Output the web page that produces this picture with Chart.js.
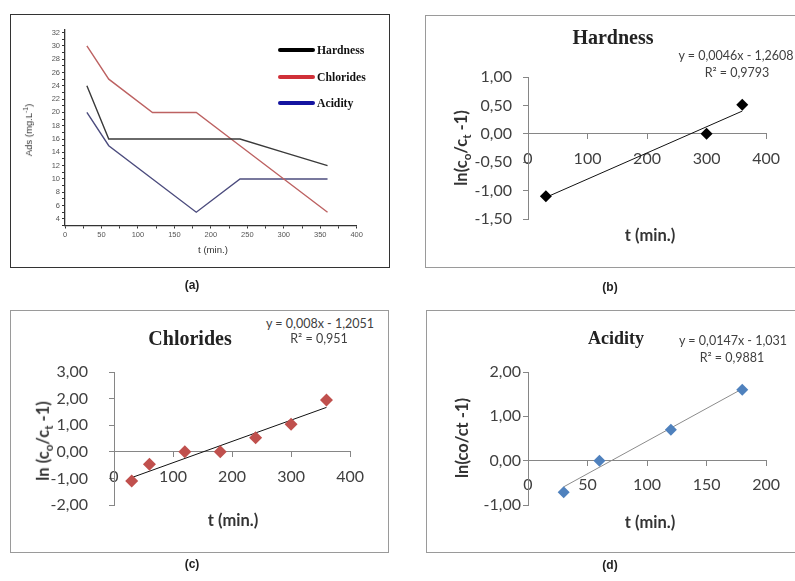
<!DOCTYPE html>
<html>
<head>
<meta charset="utf-8">
<script src="https://cdn.jsdelivr.net/npm/chart.js@4.4.0/dist/chart.umd.min.js"></script>
<style>
  body { margin: 0; width: 795px; height: 581px; overflow: hidden; background: #fff; position: relative; font-family: Lato, sans-serif; }
  .box { position: absolute; box-sizing: border-box; }
  canvas { position: absolute; }
  .txt { position: absolute; white-space: nowrap; transform: translate(-50%, -50%); color: #404040; }
  .vert { transform: translate(-50%, -50%) rotate(-90deg); }
  .serif { font-family: "Liberation Serif", "Times New Roman", serif; font-weight: bold; color: #222; }
  .eq { font-size: 12.5px; }
  .axt { font-size: 16.5px; font-weight: bold; color: #333; }
  .cap { font-family: "Liberation Sans", Arial, sans-serif; font-weight: bold; font-size: 12px; color: #222; }
  .leg { position: absolute; width: 37px; height: 4px; border-radius: 2px; }
  .legt { position: absolute; font-family: "Liberation Serif", serif; font-weight: bold; font-size: 11.7px; color: #111; transform: translateY(-50%); }
  sub { font-size: 70%; }
</style>
</head>
<body>

<!-- panel frames -->
<div class="box" style="left:10px;top:14px;width:380px;height:254px;border:1px solid #333"></div>
<div class="box" style="left:425px;top:15px;width:400px;height:253px;border:1px solid #9a9a9a"></div>
<div class="box" style="left:10px;top:310px;width:379px;height:243px;border:1px solid #9a9a9a"></div>
<div class="box" style="left:426px;top:310px;width:400px;height:243px;border:1px solid #9a9a9a"></div>

<canvas id="chartA" width="360" height="230" style="left:15px;top:18px"></canvas>
<canvas id="chartB" width="320" height="223" style="left:470px;top:37px"></canvas>
<canvas id="chartC" width="338" height="206" style="left:36px;top:339px"></canvas>
<canvas id="chartD" width="320" height="213" style="left:470px;top:332px"></canvas>

<!-- (a) texts -->
<div class="txt vert" style="left:28px;top:130px;font-family:'Liberation Sans',Arial,sans-serif;font-size:9.5px;color:#333">Ads (mg.L<sup style="font-size:70%">-1</sup>)</div>
<div class="txt" style="left:213px;top:249px;font-family:'Liberation Sans',Arial,sans-serif;font-size:9.6px;color:#333">t (min.)</div>
<div class="leg" style="left:278px;top:48px;background:#000"></div>
<div class="legt" style="left:317px;top:50px">Hardness</div>
<div class="leg" style="left:278px;top:75px;background:#d03038"></div>
<div class="legt" style="left:317px;top:77px">Chlorides</div>
<div class="leg" style="left:278px;top:101px;background:#1414a0"></div>
<div class="legt" style="left:317px;top:103px">Acidity</div>
<div class="txt cap" style="left:192px;top:285px">(a)</div>

<!-- (b) texts -->
<div class="txt serif" style="left:613px;top:37px;font-size:20px">Hardness</div>
<div class="txt eq" style="left:736px;top:55px">y = 0,0046x - 1,2608</div>
<div class="txt eq" style="left:737px;top:72px">R² = 0,9793</div>
<div class="txt axt vert" style="left:462px;top:148px">ln(c<sub>o</sub>/c<sub>t</sub> -1)</div>
<div class="txt axt" style="left:650px;top:235px">t (min.)</div>
<div class="txt cap" style="left:610px;top:287px">(b)</div>

<!-- (c) texts -->
<div class="txt serif" style="left:190px;top:338px;font-size:20px">Chlorides</div>
<div class="txt eq" style="left:320px;top:323px">y = 0,008x - 1,2051</div>
<div class="txt eq" style="left:319px;top:338px">R² = 0,951</div>
<div class="txt axt vert" style="left:44px;top:441px">ln (c<sub>o</sub>/c<sub>t</sub> -1)</div>
<div class="txt axt" style="left:233px;top:520px">t (min.)</div>
<div class="txt cap" style="left:192px;top:564px">(c)</div>

<!-- (d) texts -->
<div class="txt serif" style="left:616px;top:338px;font-size:18px">Acidity</div>
<div class="txt eq" style="left:733px;top:340px">y = 0,0147x - 1,031</div>
<div class="txt eq" style="left:732px;top:357px">R² = 0,9881</div>
<div class="txt axt vert" style="left:462px;top:438px">ln(co/ct -1)</div>
<div class="txt axt" style="left:650px;top:522px">t (min.)</div>
<div class="txt cap" style="left:610px;top:565px">(d)</div>

<script>
// ---- (a) adsorption vs time ----
const timesA = [30, 60, 120, 180, 240, 300, 360];
const hardnessAds = [24, 16, 16, 16, 16, 14, 12];
const chloridesAds = [30, 25, 20, 20, 15, 10, 5];
const acidityAds = [20, 15, 10, 5, 10, 10, 10];

// ---- (b) hardness kinetics ----
const hardnessT = [30, 300, 360];
const hardnessLn = [-1.1, 0, 0.51];
const hardnessFitT = [30, 360];
const hardnessFit = [-1.12, 0.40];

// ---- (c) chlorides kinetics ----
const chloridesT = [30, 60, 120, 180, 240, 300, 360];
const chloridesLn = [-1.1, -0.47, 0, 0, 0.53, 1.04, 1.95];
const chloridesFitT = [30, 360];
const chloridesFit = [-0.97, 1.67];

// ---- (d) acidity kinetics ----
const acidityT = [30, 60, 120, 180];
const acidityLn = [-0.71, 0, 0.7, 1.6];
const acidityFitT = [30, 180];
const acidityFit = [-0.59, 1.62];

const pairs = (xs, ys) => xs.map((x, i) => ({ x, y: ys[i] }));
const comma = v => v.toFixed(2).replace(".", ",");

// ---- panel (a) ----
const axisA = "#333";
const fontA = { family: "Liberation Sans, Arial, sans-serif", size: 7.5 };
const lineSet = (data, color) => ({
  data: pairs(timesA, data), showLine: true, pointRadius: 0,
  borderColor: color, borderWidth: 1.4, tension: 0
});

new Chart(document.getElementById("chartA"), {
  type: "scatter",
  data: {
    datasets: [
      lineSet(hardnessAds, "#3a3a3a"),
      lineSet(chloridesAds, "#bd6262"),
      lineSet(acidityAds, "#4c4c7e")
    ]
  },
  options: {
    responsive: false,
    animation: false,
    layout: { padding: { left: 0, top: 11.3, right: 18.3, bottom: 0 } },
    plugins: { legend: { display: false }, tooltip: { enabled: false } },
    scales: {
      x: {
        type: "linear", min: 0, max: 400,
        afterFit: s => { s.height = 22.5; },
        ticks: { stepSize: 25, autoSkip: false, maxRotation: 0, padding: 2, color: "#555", font: fontA,
          callback: v => (v % 50 === 0 ? v : "") },
        grid: { drawOnChartArea: false, tickLength: 3, color: axisA },
        border: { color: axisA, width: 1.3 }
      },
      y: {
        min: 3, max: 32.5,
        afterFit: s => { s.width = 50; },
        ticks: { stepSize: 1, includeBounds: false, autoSkip: false, padding: 2, color: "#555", font: fontA,
          callback: v => (v % 2 === 0 ? v : "") },
        grid: { drawOnChartArea: false, tickLength: 3, color: axisA },
        border: { color: axisA, width: 1.3 }
      }
    }
  }
});

// ---- panels (b), (c), (d) ----
const axisGray = "#868686";
const tickFont = { family: "Lato, sans-serif", size: 16 };

const kineticChart = (id, cfg) => new Chart(document.getElementById(id), {
  type: "scatter",
  data: {
    datasets: [
      {
        data: pairs(cfg.t, cfg.ln), pointStyle: "rectRot", pointRadius: cfg.r, pointHoverRadius: cfg.r,
        backgroundColor: cfg.color, borderColor: cfg.color, borderWidth: 0
      },
      {
        data: pairs(cfg.fitT, cfg.fit), showLine: true, pointRadius: 0,
        borderColor: cfg.lineColor, borderWidth: 1
      }
    ]
  },
  options: {
    responsive: false,
    animation: false,
    layout: { padding: { left: 0, top: cfg.top, right: 20, bottom: cfg.bottom } },
    plugins: { legend: { display: false }, tooltip: { enabled: false } },
    scales: {
      x: {
        type: "linear", position: { y: 0 }, min: 0, max: cfg.xMax,
        ticks: { stepSize: cfg.xStep, autoSkip: false, maxRotation: 0, padding: 10, color: "#404040", font: tickFont },
        grid: { drawOnChartArea: false, tickLength: 5, color: axisGray },
        border: { color: axisGray }
      },
      y: {
        min: cfg.yMin, max: cfg.yMax,
        afterFit: s => { s.width = cfg.yWidth; },
        ticks: { stepSize: cfg.yStep, autoSkip: false, padding: cfg.labelGap, color: "#404040", font: tickFont, callback: comma },
        grid: { drawOnChartArea: false, tickLength: 5, color: axisGray },
        border: { color: axisGray }
      }
    }
  }
});

kineticChart("chartB", {
  t: hardnessT, ln: hardnessLn, fitT: hardnessFitT, fit: hardnessFit,
  color: "#000", lineColor: "#111", r: 6, top: 40, bottom: 41, labelGap: 11, yWidth: 58,
  xMax: 400, xStep: 100, yMin: -1.5, yMax: 1, yStep: 0.5
});
kineticChart("chartC", {
  t: chloridesT, ln: chloridesLn, fitT: chloridesFitT, fit: chloridesFit,
  color: "#c0504d", lineColor: "#111", r: 6.5, top: 33, bottom: 40, labelGap: 21, yWidth: 78,
  xMax: 400, xStep: 100, yMin: -2, yMax: 3, yStep: 1
});
kineticChart("chartD", {
  t: acidityT, ln: acidityLn, fitT: acidityFitT, fit: acidityFit,
  color: "#4f81bd", lineColor: "#8c8c8c", r: 6, top: 40, bottom: 40, labelGap: 2, yWidth: 58,
  xMax: 200, xStep: 50, yMin: -1, yMax: 2, yStep: 1
});
</script>
</body>
</html>
